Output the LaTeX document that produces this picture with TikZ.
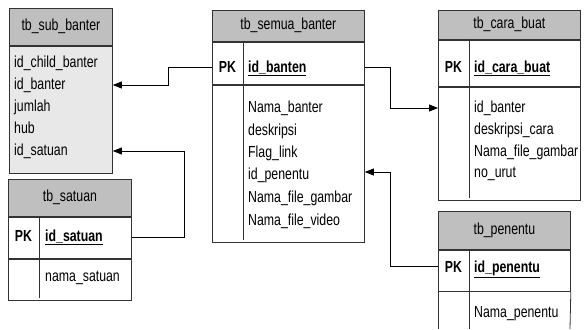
\documentclass[tikz,border=0pt]{standalone}
\usepackage{fontspec}
\setmainfont{Liberation Sans}[FakeStretch=0.77]
\usetikzlibrary{arrows.meta}

\tikzset{
  tabelle/.style={draw=black!80, line width=0.8pt, inner sep=0pt, anchor=north west,
    text height=11pt, text depth=3pt, font=\fontsize{16}{19}\selectfont},
  kopf/.style={tabelle, fill=black!25},
  feld/.style={anchor=west, inner sep=0pt, text height=11pt, text depth=3pt,
    font=\fontsize{16}{19}\selectfont},
  pk/.style={feld, anchor=center, font=\fontsize{16}{19}\selectfont\bfseries},
  schl/.style={feld, font=\fontsize{16}{19}\selectfont\bfseries},
  trenn/.style={draw=black!80, line width=0.8pt},
  fk/.style={draw=black, line width=0.8pt, -{Triangle[length=9pt,width=7pt]}},
}

\begin{document}
\begin{tikzpicture}[x=1pt,y=-1pt]
\fill[white] (0,0) rectangle (585,329);
\useasboundingbox (0,0) rectangle (585,329);
% Hilfslinien fuer die Knicke der Verbindungen
\coordinate (knA) at (168,0);
\coordinate (knB) at (184,0);
\coordinate (knC) at (390,0);
% tb_sub_banter
\node[kopf, minimum width=103, minimum height=37] (subH) at (9,8) {tb\_sub\_banter};
\node[tabelle, fill=black!9, minimum width=103, minimum height=127] (subK) at (subH.south west) {};
\node[feld] (subA) at (14,63)  {id\_child\_banter};
\node[feld] (subB) at (14,85)  {id\_banter};
\node[feld] (subC) at (14,107) {jumlah};
\node[feld] (subD) at (14,129) {hub};
\node[feld] (subE) at (14,151) {id\_satuan};
% tb_satuan
\node[kopf, minimum width=123, minimum height=37] (satH) at (8,179) {tb\_satuan};
\node[tabelle, minimum width=123, minimum height=41] (satP) at (satH.south west) {};
\node[tabelle, minimum width=123, minimum height=41] (satK) at (satP.south west) {};
\draw[trenn] (39,216) -- (39,298);
\node[pk]   (satPK) at (23.5,237) {PK};
\node[schl] (satId) at (45,237)   {\underline{id\_satuan}};
\node[feld] (satA)  at (45,277)   {nama\_satuan};
% tb_semua_banter
\node[kopf, minimum width=152, minimum height=31] (semH) at (212,10) {tb\_semua\_banter};
\node[tabelle, minimum width=152, minimum height=42] (semP) at (semH.south west) {};
\node[tabelle, minimum width=152, minimum height=157] (semK) at (semP.south west) {};
\draw[trenn] (243,41) -- (243,240);
\node[pk]   (semPK) at (227.5,68) {PK};
\node[schl] (semId) at (248,68)   {\underline{id\_banten}};
\node[feld] (semA) at (248,108) {Nama\_banter};
\node[feld] (semB) at (248,131) {deskripsi};
\node[feld] (semC) at (248,153) {Flag\_link};
\node[feld] (semD) at (248,175) {id\_penentu};
\node[feld] (semE) at (248,198) {Nama\_file\_gambar};
\node[feld] (semF) at (248,221) {Nama\_file\_video};
% tb_cara_buat
\node[kopf, minimum width=142, minimum height=29] (caraH) at (438,10) {tb\_cara\_buat};
\node[tabelle, minimum width=142, minimum height=46] (caraP) at (caraH.south west) {};
\node[tabelle, minimum width=142, minimum height=113] (caraK) at (caraP.south west) {};
\draw[trenn] (469,39) -- (469,198);
\node[pk]   (caraPK) at (453.5,68) {PK};
\node[schl] (caraId) at (474,68)   {\underline{id\_cara\_buat}};
\node[feld] (caraA) at (474,108) {id\_banter};
\node[feld] (caraB) at (474,130) {deskripsi\_cara};
\node[feld] (caraC) at (474,152) {Nama\_file\_gambar};
\node[feld] (caraD) at (474,173) {no\_urut};
% tb_penentu (unten abgeschnitten)
\node[kopf, minimum width=132, minimum height=38] (penH) at (438,211) {tb\_penentu};
\node[tabelle, minimum width=132, minimum height=41] (penP) at (penH.south west) {};
\draw[trenn] (penP.south west) -- (438,329);
\draw[trenn] (penP.south east) -- (570,329);
\draw[trenn] (469,249) -- (469,329);
\node[pk]   (penPK) at (453.5,268) {PK};
\node[schl] (penId) at (474,268)   {\underline{id\_penentu}};
\node[feld] (penA)  at (474,313)   {Nama\_penentu};
% Fremdschluessel
\draw[fk] ([yshift=-4pt]semP.west) -| (knA |- subB) -- (subK.east |- subB);
\draw[fk] (satP.east) -| (knB |- subE) -- (subK.east |- subE);
\draw[fk] ([yshift=-4pt]semP.east) -| (knC |- caraA) -- (caraK.west |- caraA);
\draw[fk] ([yshift=4pt]penP.west) -| ([yshift=3pt]knC |- semD) -- ([yshift=3pt]semK.east |- semD);
\end{tikzpicture}
\end{document}
